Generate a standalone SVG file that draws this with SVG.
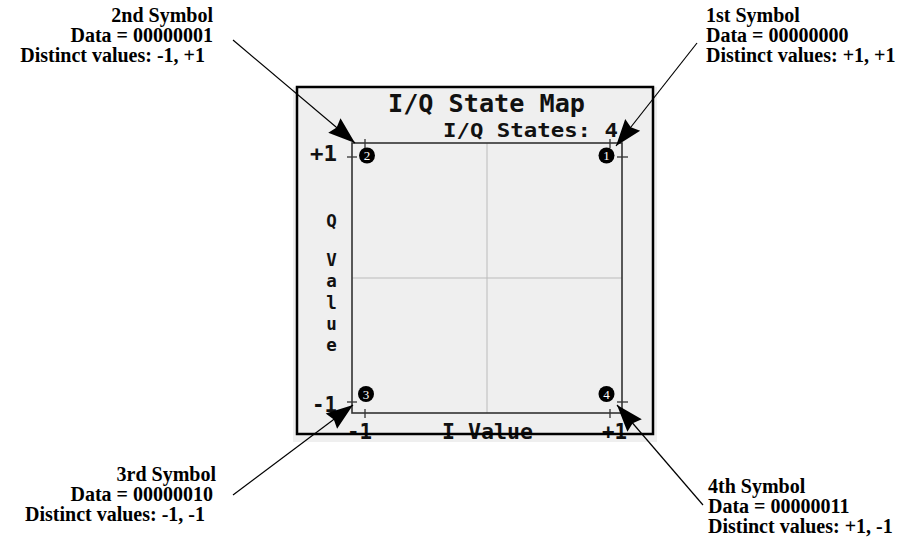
<svg xmlns="http://www.w3.org/2000/svg" width="912" height="537" viewBox="0 0 912 537">
<style>
.lbl{font-family:"Liberation Serif","Times New Roman",serif;font-weight:bold;font-size:20px;fill:#000}
.scr{font-family:"DejaVu Sans Mono","Liberation Mono",monospace;font-weight:bold;fill:#111}
.num{font-family:"Liberation Serif",serif;font-size:13px;fill:#fff;text-anchor:middle}
.tick{stroke:#333;stroke-width:1.3}
.grid{stroke:#bbb;stroke-width:1}
.conn{stroke:#000;stroke-width:1.2;fill:none;marker-end:url(#ah)}
</style>
<defs>
<marker id="ah" markerUnits="userSpaceOnUse" markerWidth="32" markerHeight="22" viewBox="-30 -11 31 22" refX="0" refY="0" orient="auto">
<path d="M0,0 L-27,-9.5 L-24,0 L-27,9.5 Z" fill="#000"/>
</marker>
</defs>
<rect width="912" height="537" fill="#fff"/>
<g id="screen">
<rect x="293" y="87" width="364" height="355" fill="#efefef"/>
<text class="scr" x="388" y="112" font-size="24" textLength="197" lengthAdjust="spacingAndGlyphs">I/Q State Map</text>
<text class="scr" x="443" y="137" font-size="20" textLength="175" lengthAdjust="spacingAndGlyphs">I/Q States: 4</text>
<line class="grid" x1="487" y1="143" x2="487" y2="413"/>
<line class="grid" x1="352" y1="278" x2="622" y2="278"/>
<rect x="352" y="143" width="270" height="270" fill="none" stroke="#333" stroke-width="1.6"/>
<line class="tick" x1="365" y1="139" x2="365" y2="148"/>
<line class="tick" x1="610" y1="139" x2="610" y2="148"/>
<line class="tick" x1="365" y1="409" x2="365" y2="418"/>
<line class="tick" x1="610" y1="409" x2="610" y2="418"/>
<line class="tick" x1="347" y1="157" x2="357" y2="157"/>
<line class="tick" x1="617" y1="157" x2="628" y2="157"/>
<line class="tick" x1="347" y1="402" x2="357" y2="402"/>
<line class="tick" x1="617" y1="402" x2="628" y2="402"/>
<text class="scr" x="310" y="161" font-size="21" textLength="27" lengthAdjust="spacingAndGlyphs">+1</text>
<text class="scr" x="312" y="412" font-size="21" textLength="25" lengthAdjust="spacingAndGlyphs">-1</text>
<g class="scr" font-size="17.5" text-anchor="middle">
<text x="331.5" y="227">Q</text>
<text x="331.5" y="266">V</text>
<text x="331.5" y="287">a</text>
<text x="331.5" y="309">l</text>
<text x="331.5" y="330">u</text>
<text x="331.5" y="351">e</text>
</g>
<text class="scr" x="347" y="439" font-size="21" textLength="25" lengthAdjust="spacingAndGlyphs">-1</text>
<text class="scr" x="442" y="439" font-size="21" textLength="91" lengthAdjust="spacingAndGlyphs">I Value</text>
<text class="scr" x="602" y="439" font-size="21" textLength="25" lengthAdjust="spacingAndGlyphs">+1</text>
<rect x="297" y="87" width="356" height="347" fill="none" stroke="#000" stroke-width="2.5"/>
</g>
<g id="sym1"><circle cx="606.5" cy="155.5" r="8" fill="#000"/><text class="num" x="606.5" y="160">1</text></g>
<g id="sym2"><circle cx="367" cy="155.5" r="8" fill="#000"/><text class="num" x="367" y="160">2</text></g>
<g id="sym3"><circle cx="366" cy="394" r="8" fill="#000"/><text class="num" x="366" y="398.5">3</text></g>
<g id="sym4"><circle cx="606.5" cy="394" r="8" fill="#000"/><text class="num" x="606.5" y="398.5">4</text></g>
<g id="connectors">
<line class="conn" x1="697" y1="43" x2="616" y2="146"/>
<line class="conn" x1="233" y1="40" x2="355" y2="143"/>
<line class="conn" x1="233" y1="495" x2="353" y2="405"/>
<line class="conn" x1="703" y1="505" x2="617" y2="405"/>
</g>
<g id="label1">
<text class="lbl" x="706" y="22">1st Symbol</text>
<text class="lbl" x="706" y="42">Data = 00000000</text>
<text class="lbl" x="706" y="62">Distinct values: +1, +1</text>
</g>
<g id="label2" text-anchor="end">
<text class="lbl" x="213" y="22">2nd Symbol</text>
<text class="lbl" x="213" y="42">Data = 00000001</text>
<text class="lbl" x="205" y="62">Distinct values: -1, +1</text>
</g>
<g id="label3" text-anchor="end">
<text class="lbl" x="216" y="481">3rd Symbol</text>
<text class="lbl" x="213" y="501">Data = 00000010</text>
<text class="lbl" x="205" y="521">Distinct values: -1, -1</text>
</g>
<g id="label4">
<text class="lbl" x="708" y="493">4th Symbol</text>
<text class="lbl" x="708" y="513">Data = 00000011</text>
<text class="lbl" x="708" y="533">Distinct values: +1, -1</text>
</g>
</svg>
